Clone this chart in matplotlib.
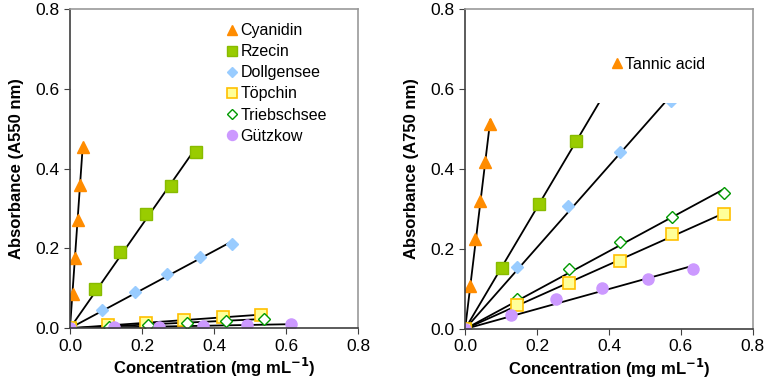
import numpy as np
import matplotlib
matplotlib.use('Agg')
import matplotlib.pyplot as plt
from matplotlib.patches import Rectangle

plt.rcParams['font.family'] = ['Liberation Sans', 'DejaVu Sans']

# left panel: A550
cyan_x = [0, 0.007, 0.014, 0.021, 0.028, 0.035]
cyan_y = [0, 0.085, 0.175, 0.27, 0.36, 0.455]
rze_x = [0, 0.07, 0.14, 0.21, 0.28, 0.35]
rze_y = [0, 0.097, 0.19, 0.287, 0.357, 0.442]
dol_x = [0, 0.09, 0.18, 0.27, 0.36, 0.45]
dol_y = [0, 0.045, 0.09, 0.135, 0.178, 0.21]
top_x = [0, 0.106, 0.212, 0.318, 0.424, 0.53]
top_y = [0, 0.007, 0.014, 0.02, 0.027, 0.034]
tri_x = [0, 0.108, 0.216, 0.324, 0.432, 0.54]
tri_y = [0, 0.004, 0.008, 0.013, 0.019, 0.024]
gut_x = [0, 0.123, 0.246, 0.369, 0.492, 0.615]
gut_y = [0, 0.002, 0.004, 0.006, 0.008, 0.01]

# right panel: A750
tan_x = [0, 0.014, 0.028, 0.042, 0.056, 0.07]
tan_y = [0, 0.107, 0.224, 0.32, 0.417, 0.512]
rze2_x = [0, 0.103, 0.206, 0.309, 0.412]
rze2_y = [0, 0.153, 0.312, 0.47, 0.626]
dol2_x = [0, 0.143, 0.286, 0.43, 0.573]
dol2_y = [0, 0.155, 0.307, 0.443, 0.57]
tri2_x = [0, 0.144, 0.288, 0.432, 0.576, 0.72]
tri2_y = [0, 0.075, 0.15, 0.217, 0.281, 0.339]
top2_x = [0, 0.144, 0.288, 0.432, 0.576, 0.72]
top2_y = [0, 0.06, 0.114, 0.171, 0.237, 0.287]
gut2_x = [0, 0.127, 0.254, 0.381, 0.508, 0.635]
gut2_y = [0, 0.035, 0.075, 0.102, 0.124, 0.151]

styles = {
    'cyan': dict(marker='^', color='#FF8C00', mec='#FF8C00', ms=8),
    'rze': dict(marker='s', color='#99CC00', mec='#88BB00', ms=8),
    'dol': dict(marker='D', color='#99CCFF', mec='#99CCFF', ms=6),
    'top': dict(marker='s', color='#FFFF99', mec='#FFC000', ms=8, mew=1.2),
    'tri': dict(marker='D', color='white', mec='#009900', ms=6, mew=1),
    'gut': dict(marker='o', color='#CC99FF', mec='#CC99FF', ms=8),
}


def FitLine(ax, x, y):
    # trendline through the origin
    x = np.asarray(x)
    y = np.asarray(y)
    k = np.sum(x * y) / np.sum(x * x)
    ax.plot([0, x.max()], [0, k * x.max()], color='black', lw=1.3, zorder=2)


def Series(ax, x, y, key, label):
    st = styles[key]
    ax.plot(x, y, ls='none', marker=st['marker'], mfc=st['color'], mec=st['mec'],
            ms=st['ms'], mew=st.get('mew', 1), label=label, zorder=3)
    FitLine(ax, x, y)


def StyleAxes(ax, ylab):
    ax.set_xlim(0, 0.8)
    ax.set_ylim(0, 0.8)
    ax.set_xticks(np.arange(0, 0.81, 0.2))
    ax.set_yticks(np.arange(0, 0.81, 0.2))
    ax.xaxis.set_major_formatter(matplotlib.ticker.FormatStrFormatter('%.1f'))
    ax.yaxis.set_major_formatter(matplotlib.ticker.FormatStrFormatter('%.1f'))
    ax.tick_params(direction='out', length=4, labelsize=12.5, color='#404040')
    ax.spines['left'].set_color('#404040')
    ax.spines['bottom'].set_color('#404040')
    ax.spines['top'].set_color('#999999')
    ax.spines['right'].set_color('#999999')
    for s in ax.spines.values():
        s.set_linewidth(1.2)
        s.set_zorder(5)
    ax.set_xlabel('Concentration (mg mL$^{\\mathbf{-1}}$)', fontsize=12,
                  fontweight='bold', labelpad=2)
    ax.set_ylabel(ylab, fontsize=12, fontweight='bold', labelpad=8)


fig = plt.figure(figsize=(7.65, 3.87), dpi=100)
ax1 = fig.add_axes([0.0915, 0.152, 0.3765, 0.825])
ax2 = fig.add_axes([0.608, 0.150, 0.376, 0.827])

Series(ax1, cyan_x, cyan_y, 'cyan', 'Cyanidin')
Series(ax1, rze_x, rze_y, 'rze', 'Rzecin')
Series(ax1, dol_x, dol_y, 'dol', 'Dollgensee')
Series(ax1, top_x, top_y, 'top', 'Töpchin')
Series(ax1, tri_x, tri_y, 'tri', 'Triebschsee')
Series(ax1, gut_x, gut_y, 'gut', 'Gützkow')
StyleAxes(ax1, 'Absorbance (A550 nm)')
ax1.legend(loc='upper left', bbox_to_anchor=(0.525, 0.975), frameon=False,
           fontsize=11.5, handlelength=0.6, handletextpad=0.2,
           labelspacing=0.38, borderaxespad=0, markerscale=0.9)

Series(ax2, tan_x, tan_y, 'cyan', 'Tannic acid')
Series(ax2, rze2_x, rze2_y, 'rze', None)
Series(ax2, dol2_x, dol2_y, 'dol', None)
Series(ax2, tri2_x, tri2_y, 'tri', None)
Series(ax2, top2_x, top2_y, 'top', None)
Series(ax2, gut2_x, gut2_y, 'gut', None)
StyleAxes(ax2, 'Absorbance (A750 nm)')
# blank legend area hides the upper part of the plot
ax2.add_patch(Rectangle((0.12, 0.565), 0.68, 0.235, facecolor='white',
                        edgecolor='none', zorder=4))
h, l = ax2.get_legend_handles_labels()
leg = ax2.legend(h[:1], l[:1], loc='upper left', bbox_to_anchor=(0.49, 0.87),
                 frameon=False, fontsize=11.5, handlelength=0.6,
                 handletextpad=0.2, borderaxespad=0, markerscale=0.9)
leg.set_zorder(6)

fig.savefig('out.png', dpi=100)
